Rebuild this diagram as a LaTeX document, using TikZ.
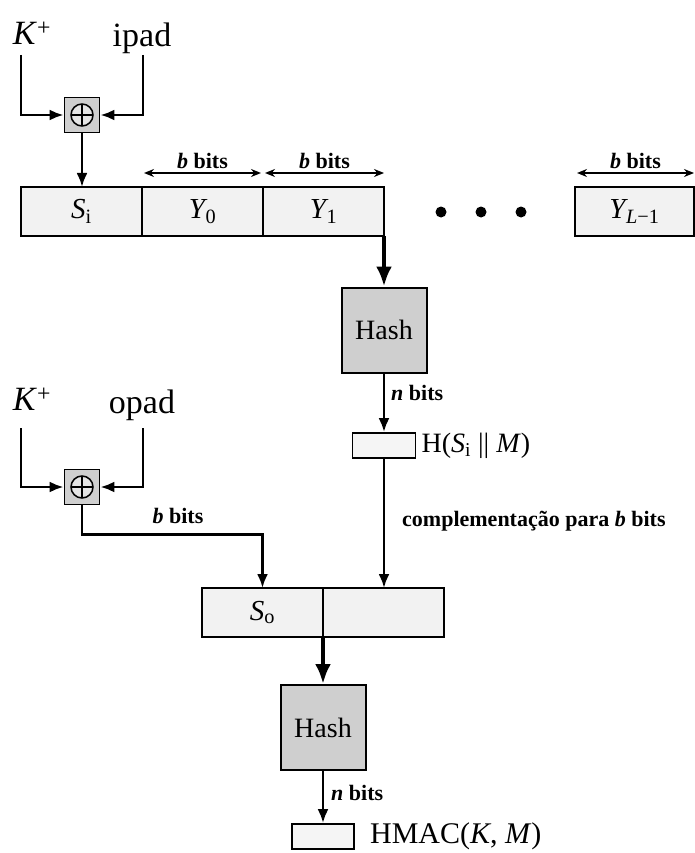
\documentclass[tikz,border=0pt]{standalone}
\usepackage{fontspec}
\setmainfont{Liberation Serif}
\usetikzlibrary{arrows.meta, positioning, calc}

\begin{document}
\begin{tikzpicture}[
  x=1pt, y=-1pt,
  cell/.style={draw, line width=1.8pt, fill=gray!10, minimum width=121pt, minimum height=49pt, inner sep=0pt, outer sep=0pt, font=\fontsize{29}{32}\selectfont},
  hashbox/.style={draw, line width=2pt, fill=gray!38, minimum size=85pt, inner sep=0pt, font=\fontsize{28}{32}\selectfont},
  outbox/.style={draw, line width=1.8pt, fill=gray!8, minimum width=63pt, minimum height=25pt, inner sep=0pt},
  xorbox/.style={draw, line width=1.8pt, fill=gray!38, minimum size=35pt, inner sep=0pt,
    path picture={
      \draw[line width=1.5pt, fill=gray!20] (path picture bounding box.center) circle (11pt);
      \draw[line width=1.5pt] ($(path picture bounding box.center)+(-11pt,0pt)$) -- ++(22pt,0pt);
      \draw[line width=1.5pt] ($(path picture bounding box.center)+(0pt,-11pt)$) -- ++(0pt,22pt);
    }},
  biglabel/.style={font=\fontsize{34}{40}\selectfont, inner sep=0pt},
  outlabel/.style={font=\fontsize{28}{32}\selectfont, inner sep=0pt},
  smalllabel/.style={font=\fontsize{22}{24}\selectfont\bfseries, inner sep=0pt},
  arrow/.style={-{Latex[length=14pt,width=11pt]}, line width=2.6pt},
  bigarrow/.style={-{Latex[length=20pt,width=16pt]}, line width=4pt},
  bitsarrow/.style={{Stealth[length=10pt,width=8pt]}-{Stealth[length=10pt,width=8pt]}, line width=1.5pt},
]
\useasboundingbox (0,0) rectangle (695,853);

% Inner key
\node[biglabel] (kin) at (32,33) {\textit{K}\textsuperscript{+}};
\node[biglabel] (ipad) at (142,38) {ipad};
\node[xorbox] (xorin) at (82,115) {};
\coordinate (kintop) at (21,55);
\coordinate (ipadtop) at (143,55);

% Message blocks
\node[cell, anchor=north west] (si) at (21,187) {\textit{S}\textsubscript{i}};
\node[cell, right=0pt of si] (y0) {\textit{Y}\kern-2pt\textsubscript{0}};
\node[cell, right=0pt of y0] (y1) {\textit{Y}\kern-2pt\textsubscript{1}};
\node[cell, anchor=north west, minimum width=119pt] (yl) at (575,187) {\textit{Y}\kern-2pt\textsubscript{\textit{L}−1}};
\foreach \x in {441,481,521} \fill (\x,212) circle (5.5pt);

% Block widths
\draw[bitsarrow] ([xshift=2pt,yshift=14pt]y0.north west) -- ([xshift=-2pt,yshift=14pt]y0.north east) node[midway, above=4pt, smalllabel] {\textit{b} bits};
\draw[bitsarrow] ([xshift=2pt,yshift=14pt]y1.north west) -- ([yshift=14pt]y1.north east) node[midway, above=4pt, smalllabel] {\textit{b} bits};
\draw[bitsarrow] ([xshift=2pt,yshift=14pt]yl.north west) -- ([yshift=14pt]yl.north east) node[midway, above=4pt, smalllabel] {\textit{b} bits};

% Inner hash
\node[hashbox] (hash1) at (384,330) {Hash};
\node[outbox] (hin) at (384,445.5) {};
\node[smalllabel, anchor=west] (nin) at (391,393) {\textit{n} bits};
\node[outlabel, right=5pt of hin] (hinlbl) {H(\textit{S}\textsubscript{i} \textbar\textbar{} \textit{M})};

% Outer key
\node[biglabel] (kout) at (32,399) {\textit{K}\textsuperscript{+}};
\node[biglabel] (opad) at (142,405) {opad};
\node[xorbox] (xorout) at (82,487) {};
\coordinate (kouttop) at (21,428);
\coordinate (opadtop) at (143,428);
\node[smalllabel] (bout) at (178,516) {\textit{b} bits};

% Outer blocks
\node[cell, anchor=north west] (so) at (202,588) {\textit{S}\textsubscript{o}};
\node[cell, right=0pt of so] (pad) {};
\node[smalllabel, anchor=west] (cpl) at (402,521) {complementação para \textit{b} bits};

% Outer hash
\node[hashbox] (hash2) at (323,727.5) {Hash};
\node[outbox, minimum width=62pt] (hout) at (323,836.5) {};
\node[smalllabel, anchor=west] (nout) at (331,793) {\textit{n} bits};
\node[outlabel, font=\fontsize{30}{34}\selectfont, right=15pt of hout] (hmac) {HMAC(\textit{K}, \textit{M})};

% Arrows
\draw[arrow] (kintop) |- (xorin.west);
\draw[arrow] (ipadtop) |- (xorin.east);
\draw[arrow] (xorin.south) -- (xorin.south |- si.north);
\draw[bigarrow] (y1.south east) -- (hash1.north);
\draw[arrow] (hash1) -- (hin);
\draw[arrow] (hin) -- (hin |- pad.north);
\draw[arrow] (kouttop) |- (xorout.west);
\draw[arrow] (opadtop) |- (xorout.east);
\draw[arrow] (xorout.south) -- ++(0,29) -| (so.north);
\draw[bigarrow] (so.south east) -- (hash2.north);
\draw[arrow] (hash2) -- (hout);

\end{tikzpicture}
\end{document}
